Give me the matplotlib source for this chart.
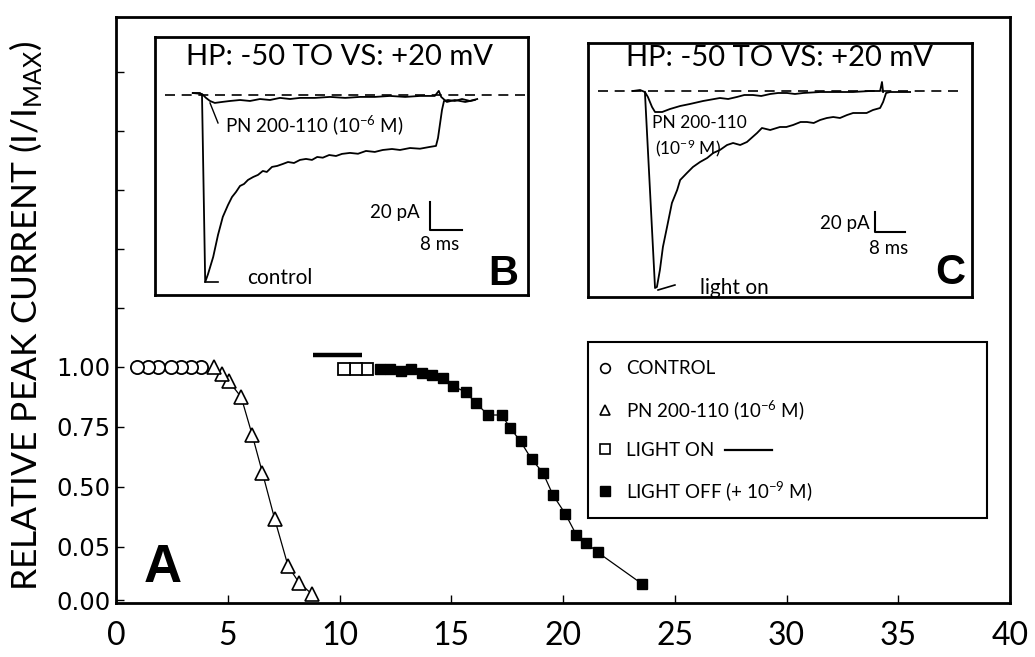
import numpy as np
import matplotlib
matplotlib.use("Agg")
import matplotlib.pyplot as plt
from matplotlib.lines import Line2D
from matplotlib.patches import Rectangle

plt.rcParams['font.family'] = ['Lato', 'DejaVu Sans']
plt.rcParams['mathtext.default'] = 'regular'

# ---------------- Panel A data ----------------
control_x = [0.95, 1.45, 1.9, 2.45, 2.9, 3.35, 3.8]
control_y = [1.00, 1.00, 1.00, 1.00, 1.00, 1.00, 1.00]

pn6_x = [4.4, 4.75, 5.05, 5.6, 6.1, 6.55, 7.1, 7.7, 8.2, 8.75]
pn6_y = [1.00, 0.97, 0.94, 0.875, 0.715, 0.56, 0.26, 0.032, 0.016, 0.006]

lighton_x = [10.2, 10.75, 11.25]
lighton_y = [0.99, 0.99, 0.99]

lightoff_x = [11.8, 12.25, 12.75, 13.2, 13.7, 14.15, 14.65, 15.1, 15.65, 16.1,
              16.65, 17.25, 17.65, 18.1, 18.6, 19.1, 19.55, 20.1, 20.6, 21.05,
              21.55, 23.55]
lightoff_y = [0.99, 0.99, 0.985, 0.99, 0.975, 0.967, 0.955, 0.92, 0.895, 0.85,
              0.80, 0.80, 0.745, 0.69, 0.615, 0.56, 0.44, 0.30, 0.14, 0.08,
              0.045, 0.015]

light_bar_x = [8.8, 11.0]
light_bar_y = [1.05, 1.05]

x_ticks = [0, 5, 10, 15, 20, 25, 30, 35, 40]
y_tick_vals = [0.0, 0.05, 0.5, 0.75, 1.0, 1.25, 1.5, 1.75, 2.0, 2.25]
y_tick_labels = ['0.00', '0.05', '0.50', '0.75', '1.00', '', '', '', '', '']

legend_labels = ['CONTROL', 'PN 200-110 (10$^{-6}$ M)', 'LIGHT ON',
                 'LIGHT OFF (+ 10$^{-9}$ M)']

# ---------------- Inset B traces (ms, pA) ----------------
b_ctrl_t = [-2.3, -0.5, 0.0, 0.8, 1.5, 2.8, 4.0, 5.2, 6.5, 7.5, 8.5, 9.5, 10.5,
            11.5, 12.8, 14.0, 15.2, 16.2, 17.5, 18.8, 20.2, 21.5, 23.0, 24.5,
            26.0, 27.5, 28.8, 30.2, 31.8, 33.5, 35.0, 37.0, 39.0, 41.0, 43.2,
            45.2, 47.5, 49.5, 52.0, 54.5, 57.0, 58.5, 59.0, 59.5, 60.0, 60.5,
            61.5, 63.2, 65.0, 67.0, 68.8]
b_ctrl_i = [1.4, 1.4, 0.0, -133.6, -128.0, -115.7, -100.0, -87.1, -78.6, -72.9,
            -69.3, -65.0, -63.6, -60.7, -58.6, -57.1, -54.3, -55.0, -51.4,
            -50.7, -49.3, -47.9, -48.6, -46.4, -45.7, -46.4, -44.3, -44.8,
            -42.9, -43.6, -42.1, -41.4, -42.0, -40.0, -40.7, -39.3, -38.6,
            -39.3, -37.9, -38.4, -37.1, -36.4, -30.7, -20.7, -10.7, -4.3, -3.6,
            -4.3, -2.9, -4.3, -2.9]

b_pn_t = [-2.3, 0.0, 1.0, 2.0, 3.2, 5.0, 7.0, 9.5, 12.0, 14.5, 17.0, 19.5, 22.0,
          24.5, 28.2, 32.0, 35.8, 39.5, 43.2, 47.0, 50.8, 54.5, 58.2, 59.2, 59.8,
          61.2, 63.2, 65.8, 68.2]
b_pn_i = [1.4, 0.7, -2.1, -4.3, -5.7, -5.0, -4.3, -3.6, -4.3, -2.9, -3.6, -2.1,
          -2.9, -2.1, -2.1, -1.4, -2.1, -1.4, -1.4, -0.7, -1.4, -0.7, -0.7, 2.9,
          -1.4, -5.0, -3.6, -5.0, -3.6]

# ---------------- Inset C traces (ms, pA) ----------------
c_on_t = [-2.7, -0.8, 0.5, 3.2, 3.7, 4.5, 5.3, 6.4, 7.7, 9.1, 9.9, 11.7, 13.3,
          15.2, 17.1, 18.7, 20.5, 22.4, 24.0, 25.9, 27.7, 30.4, 31.7, 33.9, 36.5,
          38.2, 40.0, 42.0, 43.7, 45.5, 47.2, 49.0, 50.7, 52.5, 54.4, 56.0, 57.9,
          59.6, 61.3, 63.2, 64.0, 64.8, 65.9, 68.5, 71.2]
c_on_i = [0, 1, -1, -197, -196, -179, -156, -136, -112, -99, -89, -82, -76, -71,
          -67, -62, -59, -54, -52, -54, -51, -42, -37, -39, -36, -36, -34, -31,
          -31, -32, -29, -27, -26, -27, -24, -22, -22, -22, -19, -17, -11, -2,
          -1, -1, -1]

c_pn_t = [0.5, 1.3, 2.4, 3.2, 5.1, 7.2, 9.9, 12.5, 16.0, 20.5, 22.7, 25.0, 27.0,
          29.3, 31.5, 33.9, 36.0, 38.4, 40.5, 42.7, 47.2, 51.7, 56.0, 60.5, 63.2,
          63.7, 64.0]
c_pn_i = [-1, -6, -16, -21, -21, -18, -15, -13, -10, -7, -8, -6, -4, -4, -5, -3,
          -2, -2, -3, -2, -1, -1, -1, 0, 0, 9, -1]

scale_ms = 8
scale_pa = 20

# ---------------- figure ----------------
W, H = 1035, 657
fig = plt.figure(figsize=(W / 100, H / 100), dpi=100)

def px_axes(l, t, r, b):
    return [l / W, (H - b) / H, (r - l) / W, (b - t) / H]

ax = fig.add_axes(px_axes(116, 17, 1010, 603))

# piecewise y-scale of the original figure
AX_VALS = [-0.05, 0.0, 0.05, 0.5, 0.75, 1.0, 3.5]
AX_POS = [-50, 3, 56, 116, 176, 236, 826]
fwd = lambda v: np.interp(v, AX_VALS, AX_POS)
inv = lambda p: np.interp(p, AX_POS, AX_VALS)
ax.set_yscale('function', functions=(fwd, inv))
ax.set_xlim(0, 40)
ax.set_ylim(float(inv(0)), float(inv(586)))

ax.plot(control_x[::-1], control_y[::-1], ls='none', marker='o', ms=9.5,
        mfc='white', mec='black', mew=1.3, zorder=3)
ax.plot(pn6_x, pn6_y, color='black', lw=0.9, zorder=2)
ax.plot(pn6_x[::-1], pn6_y[::-1], ls='none', marker='^', ms=10,
        mfc='white', mec='black', mew=1.2, zorder=3)
ax.plot(lighton_x[::-1], lighton_y[::-1], ls='none', marker='s', ms=8,
        mfc='white', mec='black', mew=1.3, zorder=3)
ax.plot(lightoff_x, lightoff_y, color='black', lw=0.9, zorder=2)
ax.plot(lightoff_x, lightoff_y, ls='none', marker='s', ms=7,
        mfc='black', mec='black', zorder=3)
ax.plot(light_bar_x, light_bar_y, color='black', lw=3.2, solid_capstyle='butt')

ax.set_xticks(x_ticks)
ax.set_xticklabels([str(v) for v in x_ticks])
ax.set_yticks(y_tick_vals)
ax.set_yticklabels(y_tick_labels)
ax.yaxis.set_minor_locator(matplotlib.ticker.NullLocator())
ax.tick_params(axis='x', direction='in', length=6, width=1, labelsize=23, pad=13)
ax.tick_params(axis='y', direction='in', length=6, width=1, pad=4)
for lab in ax.get_yticklabels():
    lab.set_fontfamily('DejaVu Sans')
    lab.set_fontsize(17.5)
for s in ax.spines.values():
    s.set_linewidth(2.0)

ax.set_ylabel('RELATIVE PEAK CURRENT (I/I$_{MAX}$)', fontsize=25.5)
ax.yaxis.set_label_coords(-0.080, 0.49)

ax.text(0.052, 0.06, 'A', transform=ax.transAxes, fontsize=38,
        fontweight='bold', family='Liberation Sans', ha='center', va='center')

# legend box + legend
ax.add_patch(Rectangle((0.528, 0.145), 0.446, 0.30, transform=ax.transAxes,
                       fill=False, ec='black', lw=1.5, zorder=4))
handles = [
    Line2D([], [], ls='none', marker='o', ms=7, mfc='white', mec='black', mew=1.2),
    Line2D([], [], ls='none', marker='^', ms=7, mfc='white', mec='black', mew=1.2),
    Line2D([], [], ls='none', marker='s', ms=7, mfc='white', mec='black', mew=1.2),
    Line2D([], [], ls='none', marker='s', ms=7, mfc='black', mec='black'),
]
leg = ax.legend(handles, legend_labels, loc='upper left',
                bbox_to_anchor=(0.537, 0.414), frameon=False, fontsize=13.5,
                handlelength=1.0, handletextpad=0.6, borderpad=0,
                borderaxespad=0, labelspacing=1.08)

# ---------------- inset B ----------------
axb = fig.add_axes(px_axes(155, 37, 528, 295))
axb.set_xlim(-11.75, 81.5)
axb.set_ylim(-142.9, 41.4)
axb.set_xticks([]); axb.set_yticks([])
for s in axb.spines.values():
    s.set_linewidth(2.0)
axb.plot([-9.25, 81.5], [0, 0], color='black', lw=1.2, dashes=(6, 4))
axb.plot(b_ctrl_t, b_ctrl_i, color='black', lw=1.3)
axb.plot(b_pn_t, b_pn_i, color='black', lw=1.3)
axb.plot([0.8, 4.0], [-133.6, -133.6], color='black', lw=1.2)
axb.plot([2.0, 4.0], [-5.7, -20.0], color='black', lw=1.0)
axb.plot([57, 57, 57 + scale_ms], [-76.4, -76.4 - scale_pa, -76.4 - scale_pa],
         color='black', lw=1.5)
axb.text(34.5, 27.0, 'HP: -50 TO VS: +20 mV', fontsize=21, ha='center', va='center')
axb.text(5.75, -21.4, 'PN 200-110 (10$^{-6}$ M)', fontsize=13.5, ha='left', va='center')
axb.text(54.5, -84.3, '20 pA', fontsize=13.5, ha='right', va='center')
axb.text(59.5, -107, '8 ms', fontsize=13.5, ha='center', va='center')
axb.text(11.25, -130.7, 'control', fontsize=15, ha='left', va='center')
axb.text(75.3, -128, 'B', fontsize=30, fontweight='bold', family='Liberation Sans',
         ha='center', va='center')

# ---------------- inset C ----------------
axc = fig.add_axes(px_axes(588, 43, 972, 297))
axc.set_xlim(-14.67, 87.7)
axc.set_ylim(-206, 48)
axc.set_xticks([]); axc.set_yticks([])
for s in axc.spines.values():
    s.set_linewidth(2.0)
axc.plot([-12, 85], [0, 0], color='black', lw=1.2, dashes=(6, 4))
axc.plot(c_on_t, c_on_i, color='black', lw=1.3)
axc.plot(c_pn_t, c_pn_i, color='black', lw=1.3)
axc.plot([4.0, 8.5], [-199, -194], color='black', lw=1.2)
axc.plot([61.9, 61.9, 61.9 + scale_ms], [-121, -121 - scale_pa, -121 - scale_pa],
         color='black', lw=1.5)
axc.text(36.5, 33, 'HP: -50 TO VS: +20 mV', fontsize=21, ha='center', va='center')
axc.text(2.4, -32, 'PN 200-110', fontsize=12.5, ha='left', va='center')
axc.text(3.2, -57, '(10$^{-9}$ M)', fontsize=12.5, ha='left', va='center')
axc.text(60.5, -132, '20 pA', fontsize=13.5, ha='right', va='center')
axc.text(65.6, -157, '8 ms', fontsize=13.5, ha='center', va='center')
axc.text(15.2, -197, 'light on', fontsize=15, ha='left', va='center')
axc.text(82.0, -182, 'C', fontsize=30, fontweight='bold', family='Liberation Sans',
         ha='center', va='center')

# line after "LIGHT ON" in legend
fig.canvas.draw()
renderer = fig.canvas.get_renderer()
bb = leg.get_texts()[2].get_window_extent(renderer)
ymid = (bb.y0 + bb.y1) / 2
fig.add_artist(Line2D([(bb.x1 + 11) / W, (bb.x1 + 58) / W], [ymid / H, ymid / H],
                      transform=fig.transFigure, color='black', lw=1.6))

fig.savefig('out.png', dpi=100)
